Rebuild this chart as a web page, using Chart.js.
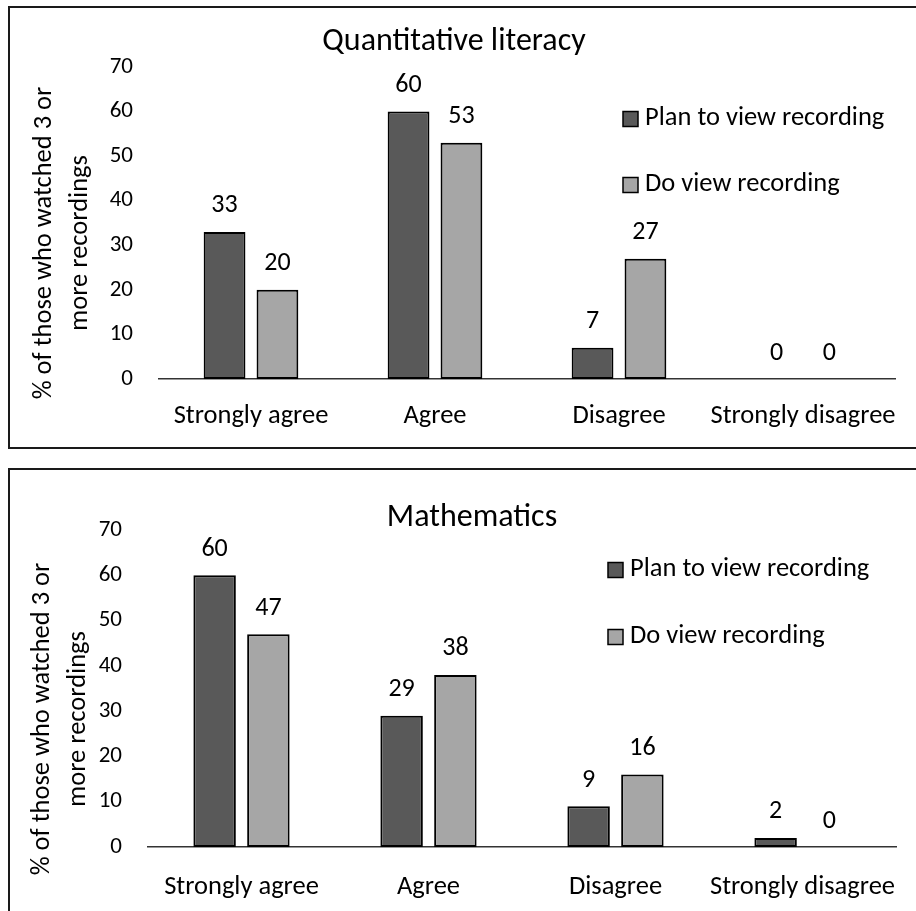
<!DOCTYPE html>
<html>
<head>
<meta charset="utf-8">
<script src="https://cdn.jsdelivr.net/npm/chart.js@4/dist/chart.umd.min.js"></script>
<style>
  body { margin: 0; background: #fff; width: 916px; height: 911px; overflow: hidden; position: relative; }
  .box { position: absolute; border: 2px solid #1a1a1a; box-sizing: border-box; }
  canvas { position: absolute; }
</style>
</head>
<body>
<div class="box" style="left:8px; top:6px; width:940px; height:443px;"></div>
<div class="box" style="left:8px; top:468px; width:940px; height:500px;"></div>
<canvas id="quant" width="907" height="441" style="left:9px; top:7px;"></canvas>
<canvas id="math" width="907" height="442" style="left:9px; top:469px;"></canvas>
<script>
// dados
const categories = ['Strongly agree', 'Agree', 'Disagree', 'Strongly disagree']
const seriesNames = ['Plan to view recording', 'Do view recording']
const quantPlan = [33, 60, 7, 0]
const quantDo = [20, 53, 27, 0]
const mathPlan = [60, 29, 9, 2]
const mathDo = [47, 38, 16, 0]
const yMin = 0
const yMax = 70
const yStep = 10
const yTitle = ['% of those who watched 3 or', 'more recordings']

const fonte = 'Carlito, Lato, "Open Sans", sans-serif'
const corEscura = '#595959'
const corClara = '#a6a6a6'

// titulo, legenda, titulo do eixo y e rotulos de valor
const extras = {
    id: 'extras',
    afterDatasetsDraw(chart, args, opts) {
        const ctx = chart.ctx
        ctx.save()
        ctx.fillStyle = '#000'
        ctx.textAlign = 'center'
        ctx.textBaseline = 'middle'
        ctx.font = '26px ' + fonte
        chart.data.datasets.forEach((ds, i) => {
            chart.getDatasetMeta(i).data.forEach((bar, j) => {
                ctx.fillText(String(ds.data[j]), bar.x, bar.y - 26)
            })
        })
        // titulo
        ctx.font = '32px ' + fonte
        ctx.fillText(opts.title, opts.titleX, opts.titleY)
        // titulo do eixo y
        ctx.font = '26.5px ' + fonte
        yTitle.forEach((linha, k) => {
            ctx.save()
            ctx.translate(opts.yTitleX + k * 36, opts.yTitleY)
            ctx.rotate(-Math.PI / 2)
            ctx.fillText(linha, 0, 0)
            ctx.restore()
        })
        // legenda
        ctx.textAlign = 'left'
        chart.data.datasets.forEach((ds, i) => {
            const y = opts.legendY[i]
            const s = opts.legendBox
            ctx.fillStyle = ds.backgroundColor
            ctx.fillRect(opts.legendX, y - s / 2 + 2, s, s)
            ctx.lineWidth = 1.5
            ctx.strokeStyle = '#000'
            ctx.strokeRect(opts.legendX, y - s / 2 + 2, s, s)
            ctx.fillStyle = '#000'
            ctx.fillText(ds.label, opts.legendX + s + 7, y + 1)
        })
        ctx.restore()
    }
}

function criarGrafico(id, plan, done, p) {
    const ctx = document.getElementById(id).getContext('2d')
    return new Chart(ctx, {
        type: 'bar',
        data: {
            labels: categories,
            datasets: [
                { label: seriesNames[0], data: plan, backgroundColor: corEscura, borderColor: '#000', borderWidth: 2, borderSkipped: false },
                { label: seriesNames[1], data: done, backgroundColor: corClara, borderColor: '#000', borderWidth: 2, borderSkipped: false }
            ]
        },
        options: {
            responsive: false,
            animation: false,
            datasets: { bar: { categoryPercentage: 0.575, barPercentage: 0.79 } },
            layout: { padding: { left: 0, right: p.padRight, top: p.padTop, bottom: p.padBottom } },
            plugins: {
                legend: { display: false },
                tooltip: { enabled: false },
                extras: p
            },
            scales: {
                x: {
                    grid: { display: false },
                    border: { display: true, color: '#333', width: 1.5 },
                    ticks: { color: '#000', font: { family: fonte, size: 26.5 }, padding: p.xPad, maxRotation: 0, minRotation: 0, autoSkip: false },
                    afterFit: s => { s.height = 55 }
                },
                y: {
                    min: yMin, max: yMax,
                    grid: { display: false },
                    border: { display: false },
                    ticks: { stepSize: yStep, color: '#000', font: { family: fonte, size: 23 }, padding: 18 },
                    afterFit: s => { s.width = p.axisWidth }
                }
            }
        },
        plugins: [extras]
    })
}

criarGrafico('quant', quantPlan, quantDo, {
    title: 'Quantitative literacy', titleX: 445, titleY: 35,
    legendX: 614, legendY: [110, 176], legendBox: 15,
    yTitleX: 35, yTitleY: 236,
    padRight: 21, padTop: 60, padBottom: 14, axisWidth: 150, xPad: 13
})
criarGrafico('math', mathPlan, mathDo, {
    title: 'Mathematics', titleX: 463, titleY: 49,
    legendX: 599, legendY: [99, 166], legendBox: 15,
    yTitleX: 33, yTitleY: 250,
    padRight: 20, padTop: 61, padBottom: 9, axisWidth: 139, xPad: 16
})
</script>
</body>
</html>
